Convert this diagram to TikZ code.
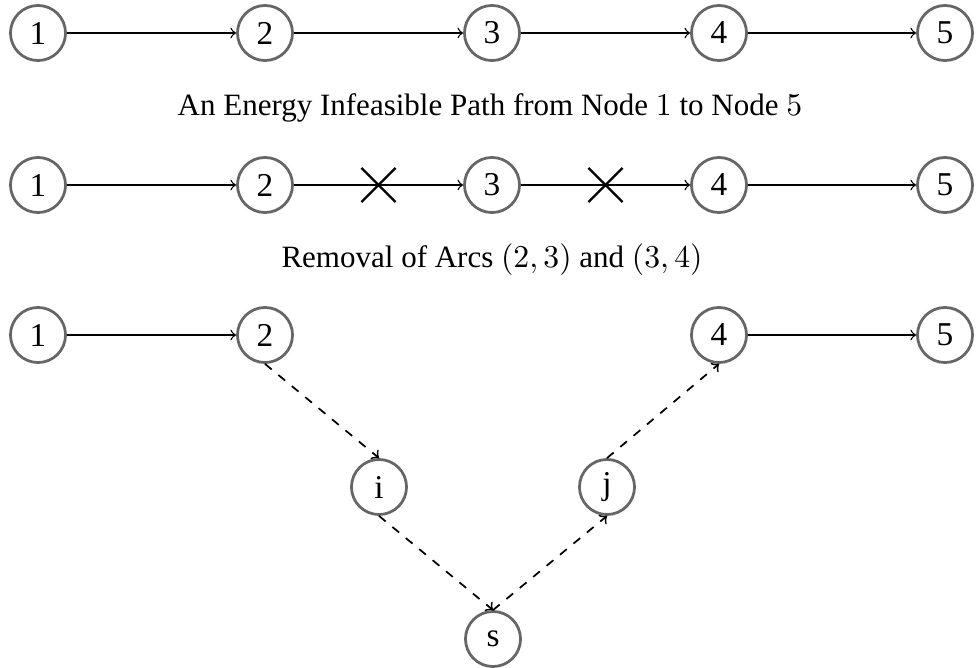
\documentclass[tikz,border=0pt]{standalone}
\usepackage{fontspec}
\setmainfont{Liberation Serif}
\usetikzlibrary{shapes.misc}
\begin{document}
\begin{tikzpicture}[x=0.345pt,y=-0.345pt,
  vertex/.style={circle,draw=black!60,line width=0.95pt,minimum size=19pt,inner sep=0pt,font=\fontsize{11.5}{13}\selectfont},
  arc/.style={->,line width=0.45pt},
  darc/.style={->,dashed,line width=0.6pt},
  cut/.style={cross out,draw=black,line width=0.75pt,minimum size=11pt,inner sep=0pt},
  caption/.style={font=\fontsize{10.7}{13}\selectfont}]
\useasboundingbox (0,0) rectangle (977,668);

% first row: a path from node 1 to node 5
\node[vertex] (a1) at (38,33) {1};
\node[vertex] (a2) at (265,33) {2};
\node[vertex] (a3) at (492,33) {3};
\node[vertex] (a4) at (719,33) {4};
\node[vertex] (a5) at (945,33) {5};
\draw[arc] (a1) -- (a2);
\draw[arc] (a2) -- (a3);
\draw[arc] (a3) -- (a4);
\draw[arc] (a4) -- (a5);
\node[caption] (t1) at (490,108) {An Energy Infeasible Path from Node $1$ to Node $5$};

% second row: arcs (2,3) and (3,4) crossed out
\node[vertex] (b1) at (38,185) {1};
\node[vertex] (b2) at (265,185) {2};
\node[vertex] (b3) at (492,185) {3};
\node[vertex] (b4) at (719,185) {4};
\node[vertex] (b5) at (945,185) {5};
\draw[arc] (b1) -- (b2);
\draw[arc] (b2) -- (b3) node[cut,midway] (x1) {};
\draw[arc] (b3) -- (b4) node[cut,midway] (x2) {};
\draw[arc] (b4) -- (b5);
\node[caption] (t2) at (492,260) {Removal of Arcs $(2,3)$ and $(3,4)$};

% third row: detour through i, s and j
\node[vertex] (c1) at (38,335) {1};
\node[vertex] (c2) at (265,335) {2};
\node[vertex] (c4) at (719,335) {4};
\node[vertex] (c5) at (945,335) {5};
\node[vertex] (ci) at (379,487) {i};
\node[vertex] (cj) at (607,487) {j};
\node[vertex] (cs) at (493,639) {s};
\draw[arc] (c1) -- (c2);
\draw[arc] (c4) -- (c5);
\draw[darc] (c2.south) -- (ci.north);
\draw[darc] (ci.south) -- (cs.north);
\draw[darc] (cs.north) -- (cj.south);
\draw[darc] (cj.north) -- (c4.south);
\end{tikzpicture}
\end{document}
